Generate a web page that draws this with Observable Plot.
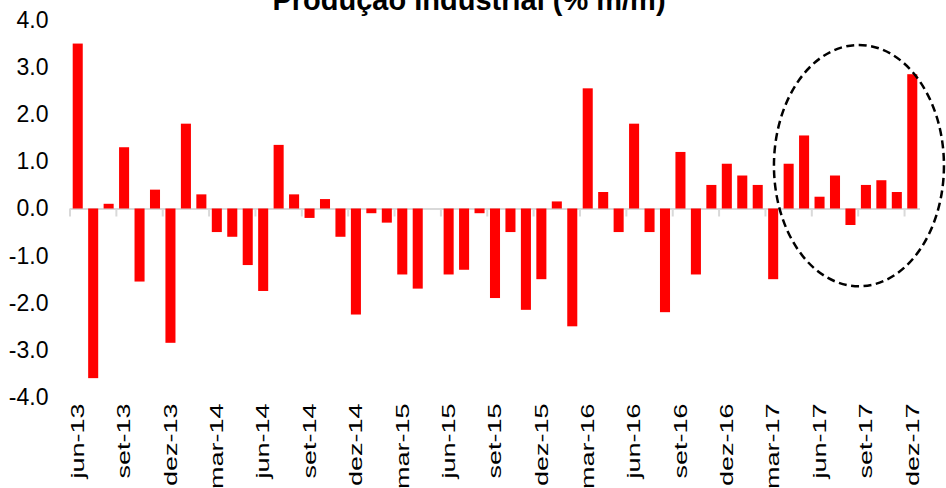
<!DOCTYPE html>
<html><head><meta charset="utf-8">
<script src="https://cdn.jsdelivr.net/npm/d3@7"></script>
<script src="https://cdn.jsdelivr.net/npm/@observablehq/plot@0.6"></script>
<style>
html,body{margin:0;padding:0;background:#fff;overflow:hidden}
#wrap{position:relative;width:946px;height:488px;overflow:hidden;background:#fff}
#title{position:absolute;left:-4px;width:946px;top:-14.5px;text-align:center;font:bold 29px Arial,"Liberation Sans",sans-serif;line-height:29px;color:#000;z-index:2}
#chart{position:absolute;left:0;top:0}
</style></head><body>
<div id="wrap"><div id="title">Produção Industrial (% m/m)</div><div id="chart"></div></div>
<script>
const months = [
  "jun-13","jul-13","ago-13","set-13","out-13","nov-13","dez-13",
  "jan-14","fev-14","mar-14","abr-14","mai-14","jun-14","jul-14","ago-14","set-14","out-14","nov-14","dez-14",
  "jan-15","fev-15","mar-15","abr-15","mai-15","jun-15","jul-15","ago-15","set-15","out-15","nov-15","dez-15",
  "jan-16","fev-16","mar-16","abr-16","mai-16","jun-16","jul-16","ago-16","set-16","out-16","nov-16","dez-16",
  "jan-17","fev-17","mar-17","abr-17","mai-17","jun-17","jul-17","ago-17","set-17","out-17","nov-17","dez-17"
];
const values = [
  3.5, -3.6, 0.1, 1.3, -1.55, 0.4, -2.85,
  1.8, 0.3, -0.5, -0.6, -1.2, -1.75, 1.35, 0.3, -0.2, 0.2, -0.6, -2.25,
  -0.1, -0.3, -1.4, -1.7, 0.0, -1.4, -1.3, -0.1, -1.9, -0.5, -2.15, -1.5,
  0.15, -2.5, 2.55, 0.35, -0.5, 1.8, -0.5, -2.2, 1.2, -1.4, 0.5, 0.95,
  0.7, 0.5, -1.5, 0.95, 1.55, 0.25, 0.7, -0.35, 0.5, 0.6, 0.35, 2.85
];
const tickLabels = ["jun-13","set-13","dez-13","mar-14","jun-14","set-14","dez-14","mar-15","jun-15","set-15","dez-15","mar-16","jun-16","set-16","dez-16","mar-17","jun-17","set-17","dez-17"];
const yTicks = [-4, -3, -2, -1, 0, 1, 2, 3, 4];
// dashed ellipse highlighting recent months (in month-index and value units)
const highlight = {i0: 45.55, i1: 56.55, yTop: 3.47, yBottom: -1.65};

const data = months.map((m, i) => ({month: m, value: values[i]}));

function bandInfo(x) {
  const bw = x.bandwidth ? x.bandwidth() : 10;
  const step = x.step ? x.step() : bw / 0.65;
  return {bw, step, off: (step - bw) / 2};
}

function boundaryTicks(index, scales) {
  const x = scales.x, y = scales.y;
  const {off} = bandInfo(x);
  const g = d3.create("svg:g");
  const y0 = y(0);
  for (const m of tickLabels) {
    const px = x(m) - off;
    g.append("line").attr("x1", px).attr("x2", px).attr("y1", y0).attr("y2", y0 + 8)
      .attr("stroke", "#d9d9d9").attr("stroke-width", 2);
  }
  return g.node();
}

function ellipseMark(index, scales) {
  const x = scales.x, y = scales.y;
  const {step, off} = bandInfo(x);
  const origin = x(months[0]) - off;
  const xl = origin + highlight.i0 * step, xr = origin + highlight.i1 * step;
  const yt = y(highlight.yTop), yb = y(highlight.yBottom);
  const e = d3.create("svg:ellipse")
    .attr("cx", (xl + xr) / 2).attr("cy", (yt + yb) / 2)
    .attr("rx", (xr - xl) / 2).attr("ry", (yb - yt) / 2)
    .attr("fill", "none").attr("stroke", "#000").attr("stroke-width", 2.5)
    .attr("stroke-dasharray", "8,4.5");
  return e.node();
}

const plot = Plot.plot({
  width: 946, height: 488,
  marginLeft: 70, marginRight: 26, marginTop: 20, marginBottom: 91,
  style: {fontFamily: 'Arial, "Liberation Sans", sans-serif', color: "#000", background: "transparent"},
  x: {domain: months, paddingInner: 0.35, paddingOuter: 0.175, round: false, label: null, axis: null},
  y: {domain: [-4, 4], label: null, axis: null},
  marks: [
    Plot.axisY({ticks: yTicks, tickSize: 0, tickPadding: 22, tickFormat: d => d.toFixed(1), fontSize: 23, label: null}),
    Plot.axisX({ticks: tickLabels, tickSize: 0, tickPadding: 6, tickRotate: -90, fontSize: 18, label: null}),
    Plot.ruleY([0], {stroke: "#d9d9d9", strokeWidth: 2}),
    boundaryTicks,
    Plot.barY(data, {x: "month", y: "value", fill: "#ff0000"}),
    ellipseMark
  ]
});
document.getElementById("chart").appendChild(plot);

// stretch rotated x labels along their length, as in the reference
d3.select(plot).selectAll('g[aria-label="x-axis tick label"] text').each(function() {
  const t = this.getAttribute("transform") || "";
  this.setAttribute("transform", t + " scale(1.5,1)");
});
</script>
</body></html>
